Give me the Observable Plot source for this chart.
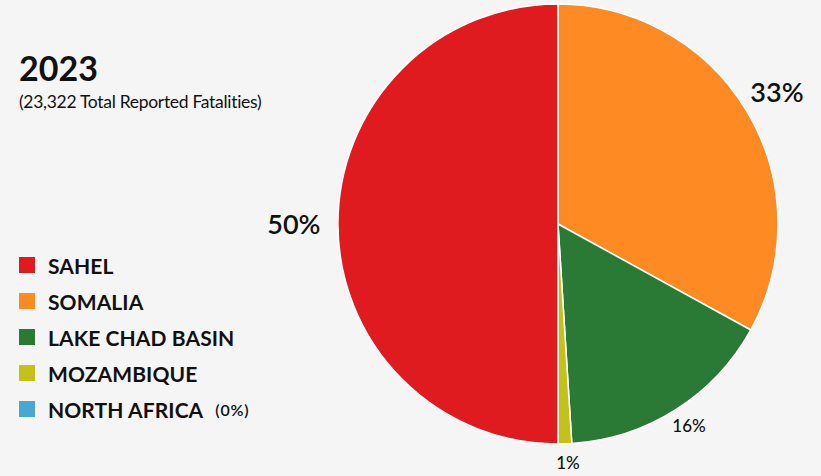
<!DOCTYPE html>
<html>
<head>
<meta charset="utf-8">
<script src="https://cdn.jsdelivr.net/npm/d3@7"></script>
<script src="https://cdn.jsdelivr.net/npm/@observablehq/plot@0.6"></script>
<style>
  html, body { margin: 0; padding: 0; background: #f5f5f5; }
  #wrap { position: relative; width: 821px; height: 476px; background: #f5f5f5; font-family: Lato, "Open Sans", sans-serif; color: #111; overflow: hidden; }
  #chart { position: absolute; left: 0; top: 0; }
  #title { position: absolute; left: 19px; top: 51px; font-size: 34px; font-weight: 700; line-height: 1; }
  #subtitle { position: absolute; left: 19px; top: 91px; font-size: 17.5px; font-weight: 400; letter-spacing: -0.3px; }
  #legend { position: absolute; left: 19px; top: 247px; }
  .row { display: flex; align-items: center; height: 36px; }
  .sw { width: 16px; height: 16px; margin-right: 13px; flex: none; }
  .lab { font-size: 21px; font-weight: 700; letter-spacing: 0.1px; }
  .note { font-size: 16px; font-weight: 600; margin-left: 12px; letter-spacing: 0.8px; }
</style>
</head>
<body>
<div id="wrap">
  <div id="chart"></div>
  <div id="title"></div>
  <div id="subtitle"></div>
  <div id="legend"></div>
</div>
<script>
// Data
const title = "2023";
const subtitle = "(23,322 Total Reported Fatalities)";
const regions = ["SOMALIA", "LAKE CHAD BASIN", "MOZAMBIQUE", "NORTH AFRICA", "SAHEL"];
const shares = [33, 16, 1, 0, 50];
const legendOrder = ["SAHEL", "SOMALIA", "LAKE CHAD BASIN", "MOZAMBIQUE", "NORTH AFRICA"];
const legendNotes = ["", "", "", "", "(0%)"];
const colors = ["#fd8a23", "#2a7a36", "#c3c11a", "#4ba6d1", "#e01b1f"];

const data = regions.map((r, i) => ({region: r, value: shares[i]}));
const arcs = d3.pie().sort(null).value(d => d.value).startAngle(0).endAngle(2 * Math.PI)(data);

// Label positions derived from the pie angles
const labels = arcs.filter(a => a.data.value > 0).map(a => {
  const mid = (a.startAngle + a.endAngle) / 2;
  const big = a.data.value >= 30;
  const k = big ? 1.18 : 1.09;
  return {
    x: k * Math.sin(mid),
    y: -k * Math.cos(mid),
    text: a.data.value + "%",
    big
  };
});

const pieMark = (index, scales) => {
  const cx = scales.x(0), cy = scales.y(0);
  const r = scales.x(1) - scales.x(0);
  const arc = d3.arc().innerRadius(0).outerRadius(r);
  const g = d3.create("svg:g").attr("transform", `translate(${cx},${cy})`);
  g.selectAll("path")
    .data(arcs.filter(a => a.data.value > 0))
    .join("path")
    .attr("d", arc)
    .attr("fill", d => scales.color(d.data.region))
    .attr("stroke", "#ffffff")
    .attr("stroke-width", 1.5)
    .attr("stroke-linejoin", "round");
  return g.node();
};

const plot = Plot.plot({
  width: 821,
  height: 476,
  margin: 0,
  style: {background: "transparent", fontFamily: "Lato, 'Open Sans', sans-serif"},
  x: {domain: [-1, 1], range: [338, 778], axis: null},
  y: {domain: [-1, 1], range: [4.5, 443.5], axis: null},
  color: {domain: regions, range: colors},
  marks: [
    pieMark,
    Plot.text(labels.filter(d => d.big), {x: "x", y: "y", text: "text", fontSize: 27, fontWeight: 600, fill: "#111", dx: -5, dy: 1}),
    Plot.text(labels.filter(d => !d.big), {x: "x", y: "y", text: "text", fontSize: 17, fontWeight: 500, fill: "#111", dx: 2}),
  ]
});
document.getElementById("chart").appendChild(plot);

document.getElementById("title").textContent = title;
document.getElementById("subtitle").textContent = subtitle;
const colorOf = r => colors[regions.indexOf(r)];
const leg = document.getElementById("legend");
legendOrder.forEach((r, i) => {
  const row = document.createElement("div");
  row.className = "row";
  const sw = document.createElement("div");
  sw.className = "sw";
  sw.style.background = colorOf(r);
  const lab = document.createElement("span");
  lab.className = "lab";
  lab.textContent = r;
  row.appendChild(sw);
  row.appendChild(lab);
  if (legendNotes[i]) {
    const n = document.createElement("span");
    n.className = "note";
    n.textContent = legendNotes[i];
    row.appendChild(n);
  }
  leg.appendChild(row);
});
</script>
</body>
</html>
